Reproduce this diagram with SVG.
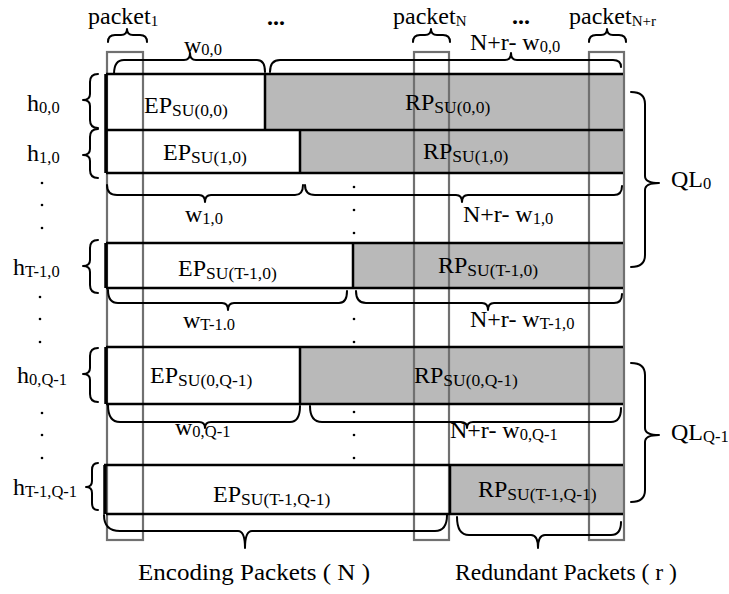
<svg xmlns="http://www.w3.org/2000/svg" width="729" height="594" viewBox="0 0 729 594">
  <style>
    text { font-family: "Liberation Serif", "Times New Roman", serif; font-size: 24px; fill: #000; }
    .sub { font-size: 17.5px; }
    .subw { font-size: 16.5px; }
    .sub2 { font-size: 15px; }
    .total { font-size: 23px; }
    .ep { fill: #ffffff; }
    .rp { fill: #b9b9b9; }
    .edge { stroke: #000; stroke-width: 2.5; fill: none; }
    .left { stroke: #000; stroke-width: 3.5; fill: none; }
    .col { stroke: #707070; stroke-width: 2.2; fill: none; }
    .brace { stroke: #000; stroke-width: 2; fill: none; stroke-linecap: round; stroke-linejoin: round; }
    .dot { fill: #000; }
  </style>

  <!-- row fills: encoding part (white) and redundant part (grey) -->
  <g id="fills">
    <rect class="ep" x="106" y="74" width="159" height="56"/>
    <rect class="rp" x="265" y="74" width="358" height="56"/>
    <rect class="ep" x="106" y="130" width="194" height="43"/>
    <rect class="rp" x="300" y="130" width="323" height="43"/>
    <rect class="ep" x="106" y="243" width="247" height="45"/>
    <rect class="rp" x="353" y="243" width="270" height="45"/>
    <rect class="ep" x="106" y="347" width="194" height="57"/>
    <rect class="rp" x="300" y="347" width="323" height="57"/>
    <rect class="ep" x="106" y="465" width="344" height="49"/>
    <rect class="rp" x="450" y="465" width="173" height="49"/>
  </g>

  <!-- packet columns -->
  <g id="packet-columns">
    <rect id="col-packet-1" class="col" x="107" y="52" width="36" height="488"/>
    <rect id="col-packet-N" class="col" x="414" y="52" width="35" height="488"/>
    <rect id="col-packet-Nr" class="col" x="589" y="52" width="35" height="488"/>
  </g>

  <!-- scheduling units -->
  <g id="su-0-0">
    <path class="edge" d="M106 74 H623 M106 130 H623 M265 74 V130"/>
    <path class="left" d="M106 74 V130"/>
    <text x="144" y="113">EP<tspan class="sub" dy="3">SU(0,0)</tspan></text>
    <text x="405" y="110">RP<tspan class="sub" dy="3">SU(0,0)</tspan></text>
  </g>
  <g id="su-1-0">
    <path class="edge" d="M106 173 H623 M300 130 V173"/>
    <path class="left" d="M106 130 V173"/>
    <text x="163" y="160">EP<tspan class="sub" dy="3">SU(1,0)</tspan></text>
    <text x="423" y="159">RP<tspan class="sub" dy="3">SU(1,0)</tspan></text>
  </g>
  <g id="su-T-1-0">
    <path class="edge" d="M106 243 H623 M106 288 H623 M353 243 V288"/>
    <path class="left" d="M106 243 V288"/>
    <text x="178" y="276">EP<tspan class="sub" dy="3">SU(T-1,0)</tspan></text>
    <text x="438" y="273">RP<tspan class="sub" dy="3">SU(T-1,0)</tspan></text>
  </g>
  <g id="su-0-Q-1">
    <path class="edge" d="M106 347 H623 M106 404 H623 M300 347 V404"/>
    <path class="left" d="M106 347 V404"/>
    <text x="150" y="383">EP<tspan class="sub" dy="3">SU(0,Q-1)</tspan></text>
    <text x="414" y="383">RP<tspan class="sub" dy="3">SU(0,Q-1)</tspan></text>
  </g>
  <g id="su-T-1-Q-1">
    <path class="edge" d="M104 465 H623 M106 514 H623 M450 465 V514"/>
    <path class="left" d="M105 465 V514"/>
    <text x="213" y="502">EP<tspan class="sub" dy="3">SU(T-1,Q-1)</tspan></text>
    <text x="478" y="497">RP<tspan class="sub" dy="3">SU(T-1,Q-1)</tspan></text>
  </g>

  <!-- braces -->
  <g id="braces">
    <!-- packet columns, top -->
    <path class="brace" d="M108 42 Q108 35 115 35 L121 35 Q127 35 127 29 Q127 35 133 35 L140 35 Q147 35 147 42"/>
    <path class="brace" d="M413 42 Q413 35 420 35 L425 35 Q431 35 431 29 Q431 35 437 35 L443 35 Q450 35 450 42"/>
    <path class="brace" d="M589 42 Q589 35 596 35 L601 35 Q607 35 607 29 Q607 35 613 35 L619 35 Q626 35 626 42"/>
    <!-- widths of the first unit -->
    <path class="brace" d="M114 74 Q114 60 124 60 L184 60 Q190 60 190 53 Q190 60 196 60 L257 60 Q265 60 265 72"/>
    <path class="brace" d="M270 72 Q270 60 280 60 L505 60 Q511 60 511 53 Q511 60 517 60 L613 60 Q621 60 621 67"/>
    <!-- heights, left -->
    <path class="brace" d="M98 74 Q90 74 90 82 L90 94 Q90 100 83 100 Q90 100 90 106 L90 120 Q90 128 98 128"/>
    <path class="brace" d="M98 129 Q90 129 90 137 L90 149 Q90 155 83 155 Q90 155 90 161 L90 170 Q90 178 98 178"/>
    <path class="brace" d="M98 240 Q90 240 90 248 L90 260 Q90 266 83 266 Q90 266 90 272 L90 285 Q90 293 98 293"/>
    <path class="brace" d="M98 348 Q90 348 90 356 L90 368 Q90 374 83 374 Q90 374 90 380 L90 394 Q90 402 98 402"/>
    <path class="brace" d="M98 463 Q92 463 92 470 L92 481 Q92 487 86 487 Q92 487 92 493 L92 503 Q92 510 98 510"/>
    <!-- quality layers, right -->
    <path class="brace" d="M631 92 Q645 92 645 104 L645 176 Q645 183 659 183 Q645 183 645 190 L645 255 Q645 267 631 267"/>
    <path class="brace" d="M631 363 Q645 363 645 375 L645 428 Q645 435 659 435 Q645 435 645 442 L645 490 Q645 502 631 502"/>
    <!-- widths under units -->
    <path class="brace" d="M107 185 Q107 195 117 195 L199 195 Q205 195 205 202 Q205 195 211 195 L295 195 Q303 195 303 185"/>
    <path class="brace" d="M305 185 Q305 195 315 195 L456 195 Q462 195 462 202 Q462 195 468 195 L614 195 Q622 195 622 186"/>
    <path class="brace" d="M108 290 Q108 303 118 303 L222 303 Q228 303 228 310 Q228 303 234 303 L339 303 Q347 303 347 291"/>
    <path class="brace" d="M356 291 Q356 303 366 303 L482 303 Q488 303 488 310 Q488 303 494 303 L614 303 Q622 303 622 294"/>
    <path class="brace" d="M108 405 Q108 422 120 422 L199 422 Q205 422 205 428 Q205 422 211 422 L290 422 Q300 422 300 406"/>
    <path class="brace" d="M310 406 Q310 422 322 422 L461 422 Q467 422 467 428 Q467 422 473 422 L611 422 Q621 422 621 408"/>
    <!-- totals, bottom -->
    <path class="brace" d="M104 515 Q104 531 120 531 L238 531 Q245 531 245 548 Q245 531 252 531 L435 531 Q447 531 447 515"/>
    <path class="brace" d="M457 517 Q457 535 469 535 L531 535 Q538 535 538 548 Q538 535 545 535 L611 535 Q621 535 621 522"/>
  </g>

  <!-- ellipsis dots -->
  <g id="dots">
    <circle class="dot" cx="42" cy="183" r="1.3"/>
    <circle class="dot" cx="42" cy="205" r="1.3"/>
    <circle class="dot" cx="42" cy="228" r="1.3"/>
    <circle class="dot" cx="40" cy="297" r="1.3"/>
    <circle class="dot" cx="40" cy="319" r="1.3"/>
    <circle class="dot" cx="40" cy="342" r="1.3"/>
    <circle class="dot" cx="42" cy="413" r="1.3"/>
    <circle class="dot" cx="42" cy="435" r="1.3"/>
    <circle class="dot" cx="42" cy="458" r="1.3"/>
    <circle class="dot" cx="354" cy="187" r="1.3"/>
    <circle class="dot" cx="354" cy="210" r="1.3"/>
    <circle class="dot" cx="354" cy="233" r="1.3"/>
    <circle class="dot" cx="354" cy="319" r="1.3"/>
    <circle class="dot" cx="354" cy="342" r="1.3"/>
    <circle class="dot" cx="354" cy="412" r="1.3"/>
    <circle class="dot" cx="354" cy="435" r="1.3"/>
    <circle class="dot" cx="354" cy="458" r="1.3"/>
  </g>

  <!-- labels -->
  <g id="labels">
    <text x="88" y="24">packet<tspan class="sub2" dy="2">1</tspan></text>
    <text x="393" y="24">packet<tspan class="sub2" dy="2">N</tspan></text>
    <text x="569" y="24">packet<tspan class="sub2" dy="2">N+r</tspan></text>
    <text x="267" y="25" font-weight="bold" font-size="20">...</text>
    <text x="512" y="24" font-weight="bold" font-size="20">...</text>
    <text x="184" y="53">w<tspan class="subw" dy="2">0,0</tspan></text>
    <text x="470" y="50">N+r- w<tspan class="subw" dy="2">0,0</tspan></text>
    <text x="27" y="111">h<tspan class="subw" dy="2">0,0</tspan></text>
    <text x="27" y="161">h<tspan class="subw" dy="2">1,0</tspan></text>
    <text x="13" y="275">h<tspan class="subw" dy="2">T-1,0</tspan></text>
    <text x="17" y="383">h<tspan class="subw" dy="2">0,Q-1</tspan></text>
    <text x="13" y="495">h<tspan class="subw" dy="2">T-1,Q-1</tspan></text>
    <text x="185" y="222">w<tspan class="subw" dy="2">1,0</tspan></text>
    <text x="463" y="222">N+r- w<tspan class="subw" dy="2">1,0</tspan></text>
    <text x="183" y="328">w<tspan class="subw" dy="2">T-1.0</tspan></text>
    <text x="470" y="327">N+r- w<tspan class="subw" dy="2">T-1,0</tspan></text>
    <text x="175" y="435">w<tspan class="subw" dy="2">0,Q-1</tspan></text>
    <text x="450" y="438">N+r- w<tspan class="subw" dy="2">0,Q-1</tspan></text>
    <text x="671" y="187">QL<tspan class="subw" dy="2">0</tspan></text>
    <text x="671" y="440">QL<tspan class="subw" dy="2">Q-1</tspan></text>
    <text class="total" x="138" y="580" textLength="232" lengthAdjust="spacingAndGlyphs">Encoding Packets ( N )</text>
    <text class="total" x="455" y="580" textLength="222" lengthAdjust="spacingAndGlyphs">Redundant Packets ( r )</text>
  </g>
</svg>
